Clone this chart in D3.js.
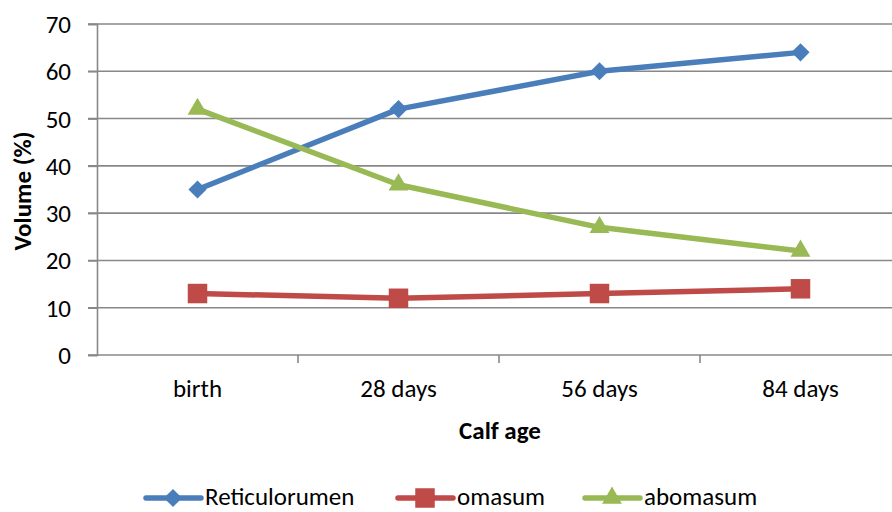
<!DOCTYPE html>
<html>
<head>
<meta charset="utf-8">
<script src="https://cdn.jsdelivr.net/npm/d3@7"></script>
<style>
  body { margin: 0; background: #fff; }
  text { font-family: Carlito, "Open Sans", sans-serif; fill: #000; }
</style>
</head>
<body>
<div id="chart"></div>
<script>
const categories = ["birth", "28 days", "56 days", "84 days"];
const reticulorumen = [35, 52, 60, 64];
const omasum = [13, 12, 13, 14];
const abomasum = [52, 36, 27, 22];
const yTicks = [0, 10, 20, 30, 40, 50, 60, 70];

const series = [
  { name: "Reticulorumen", values: reticulorumen, color: "#4a7ebb", symbol: "diamond" },
  { name: "omasum", values: omasum, color: "#be4b48", symbol: "square" },
  { name: "abomasum", values: abomasum, color: "#98b954", symbol: "triangle" }
];

const width = 892, height = 512;
const font = "Carlito, 'Open Sans', sans-serif";
const svg = d3.select("#chart").append("svg")
  .attr("width", width)
  .attr("height", height);

// scales
const x = d3.scaleBand().domain(categories).range([97, 901]);
const y = d3.scaleLinear().domain([0, 70]).range([355, 24]);

// gridlines
svg.append("g")
  .selectAll("line")
  .data(yTicks)
  .join("line")
  .attr("x1", 88)
  .attr("x2", width)
  .attr("y1", d => y(d))
  .attr("y2", d => y(d))
  .attr("stroke", "#888")
  .attr("stroke-width", 1.6);

// y axis
const yAxis = svg.append("g")
  .attr("transform", "translate(97,0)")
  .call(d3.axisLeft(y).tickValues(yTicks).tickSize(9).tickPadding(17));
yAxis.select(".domain").attr("stroke", "#888").attr("stroke-width", 1.6);
yAxis.selectAll(".tick line").attr("stroke", "#888").attr("stroke-width", 1.6);
yAxis.selectAll("text").attr("font-size", 25).attr("font-family", font).attr("dy", "0.34em");

// x axis
const xAxis = svg.append("g")
  .attr("transform", "translate(0,355)")
  .call(d3.axisBottom(x).tickSize(0));
xAxis.select(".domain").remove();
xAxis.selectAll("text")
  .attr("font-size", 25)
  .attr("font-family", font)
  .attr("dy", null)
  .attr("y", 42);

// boundary ticks between categories
svg.append("g")
  .selectAll("line")
  .data(categories.slice(1))
  .join("line")
  .attr("x1", d => x(d))
  .attr("x2", d => x(d))
  .attr("y1", 355)
  .attr("y2", 363)
  .attr("stroke", "#888")
  .attr("stroke-width", 1.6);

// axis titles
svg.append("text")
  .attr("x", 500)
  .attr("y", 439)
  .attr("text-anchor", "middle")
  .attr("font-size", 25)
  .attr("font-weight", "bold")
  .text("Calf age");

svg.append("text")
  .attr("transform", "translate(31,191) rotate(-90)")
  .attr("text-anchor", "middle")
  .attr("font-size", 25)
  .attr("font-weight", "bold")
  .text("Volume (%)");

const symbolType = { diamond: d3.symbolDiamond2, square: d3.symbolSquare, triangle: d3.symbolTriangle };
const symbolSize = { diamond: 210, square: 380, triangle: 170 };
const cx = d => x(d) + x.bandwidth() / 2;

const line = d3.line()
  .x((d, i) => cx(categories[i]))
  .y(d => y(d));

series.forEach(s => {
  svg.append("path")
    .datum(s.values)
    .attr("fill", "none")
    .attr("stroke", s.color)
    .attr("stroke-width", 5.5)
    .attr("stroke-linejoin", "round")
    .attr("d", line);

  svg.append("g")
    .selectAll("path")
    .data(s.values)
    .join("path")
    .attr("transform", (d, i) => `translate(${cx(categories[i])},${y(d)})`)
    .attr("d", d3.symbol().type(symbolType[s.symbol]).size(symbolSize[s.symbol]))
    .attr("fill", s.color);
});

// legend
const legendX = [146, 398, 585];
const legend = svg.append("g");
series.forEach((s, i) => {
  const g = legend.append("g").attr("transform", `translate(${legendX[i]},498)`);
  g.append("line")
    .attr("x1", 0).attr("x2", 55)
    .attr("stroke", s.color)
    .attr("stroke-width", 5.5)
    .attr("stroke-linecap", "round");
  g.append("path")
    .attr("transform", "translate(27,0)")
    .attr("d", d3.symbol().type(symbolType[s.symbol]).size(symbolSize[s.symbol]))
    .attr("fill", s.color);
  g.append("text")
    .attr("x", 59)
    .attr("y", 7)
    .attr("font-size", 25)
    .attr("font-family", font)
    .text(s.name);
});
</script>
</body>
</html>
